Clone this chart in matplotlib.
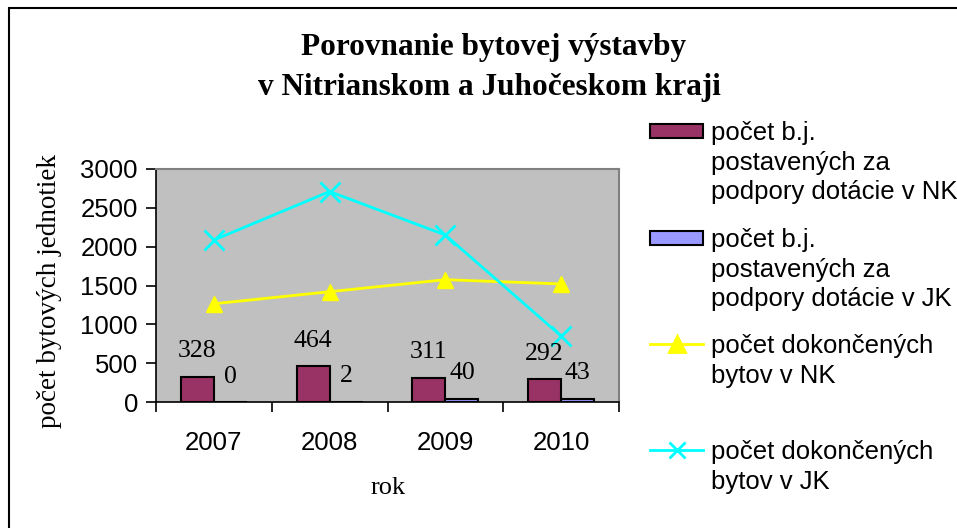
import matplotlib
matplotlib.use("Agg")
import matplotlib.pyplot as plt
from matplotlib.patches import Rectangle
from matplotlib.lines import Line2D
import numpy as np

# data
roky = ["2007", "2008", "2009", "2010"]
bj_nk = [328, 464, 311, 292]
bj_jk = [0, 2, 40, 43]
dokoncene_nk = [1265, 1420, 1575, 1520]
dokoncene_jk = [2085, 2710, 2150, 850]

legenda = [
    "počet b.j.\npostavených za\npodpory dotácie v NK",
    "počet b.j.\npostavených za\npodpory dotácie v JK",
    "počet dokončených\nbytov v NK",
    "počet dokončených\nbytov v JK",
]

W, H = 957, 528
SERIF = "Liberation Serif"
SANS = "Liberation Sans"
MAROON = "#993366"
LAVENDER = "#9999FF"
YELLOW = "#FFFF00"
CYAN = "#00FFFF"


def fx(x):
    return x / W


def fy(y):
    return 1 - y / H


fig = plt.figure(figsize=(W / 100, H / 100), dpi=100)

# chart border
fig.add_artist(Rectangle((fx(9), -0.1), 1.2, fy(8) + 0.1, transform=fig.transFigure,
                         fill=False, ec="black", lw=1.5))

ax = fig.add_axes([fx(156), fy(402), fx(619) - fx(156), fy(169) - fy(402)])
ax.set_facecolor("#C0C0C0")

x = np.arange(len(roky))
w = 1 / 3.5
ax.bar(x - w / 2, bj_nk, w, color=MAROON, edgecolor="black", lw=1.5, zorder=2)
ax.bar(x + w / 2, bj_jk, w, color=LAVENDER, edgecolor="black", lw=1.5, zorder=2)
ax.plot(x, dokoncene_nk, color=YELLOW, marker="^", ms=12, lw=2, zorder=3)
ax.plot(x, dokoncene_jk, color=CYAN, marker="x", ms=14, mew=2, lw=2, zorder=3)

# data labels
for xi, v in zip(x, bj_nk):
    ax.annotate(str(v), (xi - w / 2, v), xytext=(0, 14), textcoords="offset points",
                ha="center", va="baseline", family=SERIF, fontsize=18.5, zorder=4)
for xi, v in zip(x, bj_jk):
    ax.annotate(str(v), (xi + w / 2, v), xytext=(0, 14), textcoords="offset points",
                ha="center", va="baseline", family=SERIF, fontsize=18.5, zorder=4)

ax.set_ylim(0, 3000)
ax.set_yticks(range(0, 3001, 500))
ax.set_xlim(-0.5, 3.5)
ax.set_xticks(np.arange(-0.5, 4, 1))
ax.set_xticklabels([])
ax.set_xticks(x, minor=True)
ax.set_xticklabels(roky, minor=True)
ax.tick_params(axis="x", which="major", direction="out", length=7, width=1.2)
ax.tick_params(axis="x", which="minor", length=0, pad=21)
ax.tick_params(axis="y", direction="out", length=7, width=1.2, pad=6)
for lab in ax.get_yticklabels() + ax.get_xticklabels(minor=True):
    lab.set_family(SANS)
    lab.set_fontsize(18.5)

for s in ["left", "bottom"]:
    ax.spines[s].set_color("black")
    ax.spines[s].set_linewidth(1.2)
for s in ["top", "right"]:
    ax.spines[s].set_color("#808080")
    ax.spines[s].set_linewidth(1.5)

# titles
fig.text(fx(494), fy(48), "Porovnanie bytovej výstavby", ha="center", va="center",
         family=SERIF, fontweight="bold", fontsize=22.5)
fig.text(fx(489), fy(88), "v Nitrianskom a Juhočeskom kraji", ha="center", va="center",
         family=SERIF, fontweight="bold", fontsize=22.5)
fig.text(fx(50), fy(291), "počet bytových jednotiek", rotation=90, ha="center", va="center",
         family=SERIF, fontsize=19.5)
fig.text(fx(388), fy(488), "rok", ha="center", va="center", family=SERIF, fontsize=19)

# legend, drawn by hand to follow the Excel layout
leg_y = [131, 238, 344, 450]
for i, (txt, yy) in enumerate(zip(legenda, leg_y)):
    if i < 2:
        col = MAROON if i == 0 else LAVENDER
        fig.add_artist(Rectangle((fx(650), fy(yy + 7)), fx(703) - fx(650), fy(yy - 7) - fy(yy + 7),
                                 transform=fig.transFigure, fc=col, ec="black", lw=1.5))
    else:
        col = YELLOW if i == 2 else CYAN
        mk = "^" if i == 2 else "x"
        fig.add_artist(Line2D([fx(650), fx(703)], [fy(yy), fy(yy)], transform=fig.transFigure,
                              color=col, lw=2))
        fig.add_artist(Line2D([fx(677)], [fy(yy)], transform=fig.transFigure, color=col,
                              marker=mk, ms=11, mew=2))
    fig.text(fx(711), fy(yy - 10), txt, ha="left", va="top", family=SANS, fontsize=18.5,
             linespacing=1.3, transform=fig.transFigure)

fig.savefig("out.png", dpi=100)
